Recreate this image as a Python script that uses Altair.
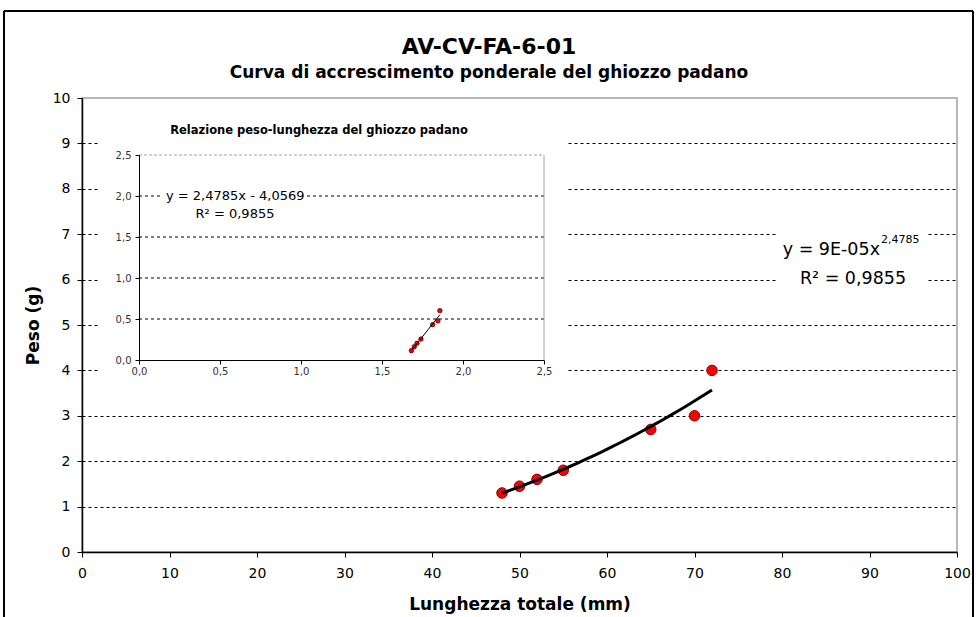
import altair as alt
import pandas as pd

# ---------------- data ----------------
lunghezza = [48, 50, 52, 55, 65, 70, 72]          # mm
peso = [1.3, 1.45, 1.6, 1.8, 2.7, 3.0, 4.0]        # g

x_ticks = list(range(0, 101, 10))
y_ticks = list(range(0, 11))
inset_ticks = [0.0, 0.5, 1.0, 1.5, 2.0, 2.5]
inset_grid = [0.5, 1.0, 1.5, 2.0]

title_text = "AV-CV-FA-6-01"
subtitle_text = "Curva di accrescimento ponderale del ghiozzo padano"
inset_title = "Relazione peso-lunghezza del ghiozzo padano"
x_title = "Lunghezza totale (mm)"
y_title = "Peso (g)"
eq_main = "y = 9E-05x"
eq_main_exp = "2,4785"
r2_main = "R² = 0,9855"
eq_inset = "y = 2,4785x - 4,0569"
r2_inset = "R² = 0,9855"

df = pd.DataFrame({"L": lunghezza, "P": peso})
grid_df = pd.DataFrame({"g": inset_grid})

FONT = "DejaVu Sans"
W, H = 875, 454
PL, PT = 82, 98

# ---------------- main plot ----------------
sx = alt.Scale(domain=[0, 100], nice=False, zero=False)
sy = alt.Scale(domain=[0, 10], nice=False, zero=False)

x_axis = alt.Axis(
    orient="bottom", values=x_ticks, title=x_title, grid=False, labelFlush=False,
    domainColor="black", domainWidth=1.5, tickColor="black", tickSize=5,
    labelFont=FONT, labelFontSize=14, labelColor="black", labelPadding=9,
    titleFont=FONT, titleFontSize=17, titleFontWeight="bold", titleColor="black",
    titleY=52, titleBaseline="middle",
)
y_axis = alt.Axis(
    orient="left", values=y_ticks, title=y_title, grid=True, labelFlush=False,
    gridColor="black", gridDash=[3, 3], gridWidth=1,
    gridOpacity={"condition": {"test": "datum.value === 0 || datum.value === 10", "value": 0}, "value": 1},
    domainColor="black", domainWidth=1.5, tickColor="black", tickSize=5,
    labelFont=FONT, labelFontSize=14, labelColor="black", labelPadding=7,
    titleFont=FONT, titleFontSize=17, titleFontWeight="bold", titleColor="black",
    titleAngle=-90, titleX=-49, titleY=227, titleAlign="center", titleBaseline="middle",
)

main_pts = alt.Chart(df).mark_circle(
    fill="#ff0000", stroke="#800000", strokeWidth=1, size=110, opacity=1
).encode(
    x=alt.X("L:Q", scale=sx, axis=x_axis),
    y=alt.Y("P:Q", scale=sy, axis=y_axis),
)
main_line = alt.Chart(df).transform_regression(
    "L", "P", method="pow"
).mark_line(color="black", strokeWidth=3).encode(
    x=alt.X("L:Q", scale=sx, axis=None),
    y=alt.Y("P:Q", scale=sy, axis=None),
)

one = alt.Data(values=[{}])

def box(x0, x1, y0, y1):
    return alt.Chart(one).mark_rect(fill="white").encode(
        x=alt.value(x0), x2=alt.value(x1), y=alt.value(y0), y2=alt.value(y1)
    )

def label(txt, x, y, size, weight="normal", align="center", color="black"):
    return alt.Chart(pd.DataFrame({"t": [txt]})).mark_text(
        font=FONT, fontSize=size, fontWeight=weight, align=align,
        baseline="middle", color=color
    ).encode(text="t:N", x=alt.value(x), y=alt.value(y))

# ---------------- inset ----------------
ix = alt.Scale(domain=[0, 2.5], range=[57, 462], nice=False, zero=False)
iy = alt.Scale(domain=[0, 2.5], range=[262, 57], nice=False, zero=False)

ix_axis = alt.Axis(
    orient="bottom", offset=-192, values=inset_ticks, format=".1f", labelFlush=False,
    labelExpr="replace(datum.label, '.', ',')", title=None, grid=False,
    domainColor="black", domainWidth=1, tickColor="black", tickSize=4,
    labelFont=FONT, labelFontSize=10, labelColor="#333333", labelPadding=2,
    zindex=1,
)
iy_axis = alt.Axis(
    orient="left", offset=-57, values=inset_ticks, format=".1f", labelFlush=False,
    labelExpr="replace(datum.label, '.', ',')", title=None, grid=False,
    domainColor="black", domainWidth=1, tickColor="black", tickSize=4,
    labelFont=FONT, labelFontSize=10, labelColor="#333333", labelPadding=4,
    zindex=1,
)

inset_gridlines = alt.Chart(grid_df).mark_rule(
    color="black", strokeWidth=1, strokeDash=[3, 3]
).encode(
    x=alt.X(datum=0, type="quantitative", scale=ix, axis=None),
    x2=alt.X2(datum=2.5),
    y=alt.Y("g:Q", scale=iy, axis=None),
)
inset_top = alt.Chart(one).mark_rule(color="#a0a0a0", strokeWidth=1, strokeDash=[3, 2]).encode(
    x=alt.X(datum=0, type="quantitative", scale=ix, axis=None),
    x2=alt.X2(datum=2.5),
    y=alt.Y(datum=2.5, type="quantitative", scale=iy, axis=None),
)
inset_right = alt.Chart(one).mark_rule(color="#a0a0a0", strokeWidth=1).encode(
    x=alt.X(datum=2.5, type="quantitative", scale=ix, axis=None),
    y=alt.Y(datum=0, type="quantitative", scale=iy, axis=None),
    y2=alt.Y2(datum=2.5),
)

inset_base = alt.Chart(df).transform_calculate(
    lx="log(datum.L) / LN10", ly="log(datum.P) / LN10"
)
inset_pts = inset_base.mark_circle(
    fill="#ff0000", stroke="#5a0000", strokeWidth=0.8, size=20, opacity=1
).encode(
    x=alt.X("lx:Q", scale=ix, axis=ix_axis),
    y=alt.Y("ly:Q", scale=iy, axis=iy_axis),
)
inset_line = inset_base.transform_regression(
    "lx", "ly", method="linear"
).mark_line(color="black", strokeWidth=1).encode(
    x=alt.X("lx:Q", scale=ix, axis=None),
    y=alt.Y("ly:Q", scale=iy, axis=None),
)

# ---------------- frame ----------------
frame_left = alt.Chart(one).mark_rule(color="black", strokeWidth=2).encode(
    x=alt.value(4 - PL), y=alt.value(11 - PT), y2=alt.value(617 - PT))
frame_top = alt.Chart(one).mark_rule(color="black", strokeWidth=2).encode(
    x=alt.value(4 - PL), x2=alt.value(973 - PL), y=alt.value(11 - PT))
frame_right = alt.Chart(one).mark_rule(color="black", strokeWidth=2).encode(
    x=alt.value(973 - PL), y=alt.value(11 - PT), y2=alt.value(617 - PT))

chart = alt.layer(
    main_pts,
    main_line,
    box(100 - PL, 567 - PL, 125 - PT, 385 - PT),
    inset_gridlines,
    inset_top,
    inset_right,
    inset_pts,
    inset_line,
    box(162 - PL, 304 - PL, 188 - PT, 222 - PT),
    box(778 - PL, 927 - PL, 230 - PT, 290 - PT),
    label(title_text, 489 - PL, 47 - PT, 22, "bold"),
    label(subtitle_text, 489 - PL, 73 - PT, 17, "bold"),
    label(inset_title, 319 - PL, 131 - PT, 11.5, "bold"),
    label(eq_main, 880 - PL, 250 - PT, 17.5, align="right"),
    label(eq_main_exp, 881 - PL, 240 - PT, 11, align="left"),
    label(r2_main, 853 - PL, 279 - PT, 17.5),
    label(eq_inset, 166 - PL, 196 - PT, 13, align="left"),
    label(r2_inset, 235 - PL, 214 - PT, 13),
    frame_left, frame_top, frame_right,
).resolve_scale(
    x="independent", y="independent"
).properties(
    width=W, height=H,
    autosize=alt.AutoSizeParams(type="none"),
    padding={"left": PL, "top": PT, "right": 978 - PL - W, "bottom": 617 - PT - H},
    background="white",
).configure_view(
    stroke="#a0a0a0", strokeWidth=1.5
)

chart.save("out.html", embed_options={"renderer": "svg", "actions": False})
